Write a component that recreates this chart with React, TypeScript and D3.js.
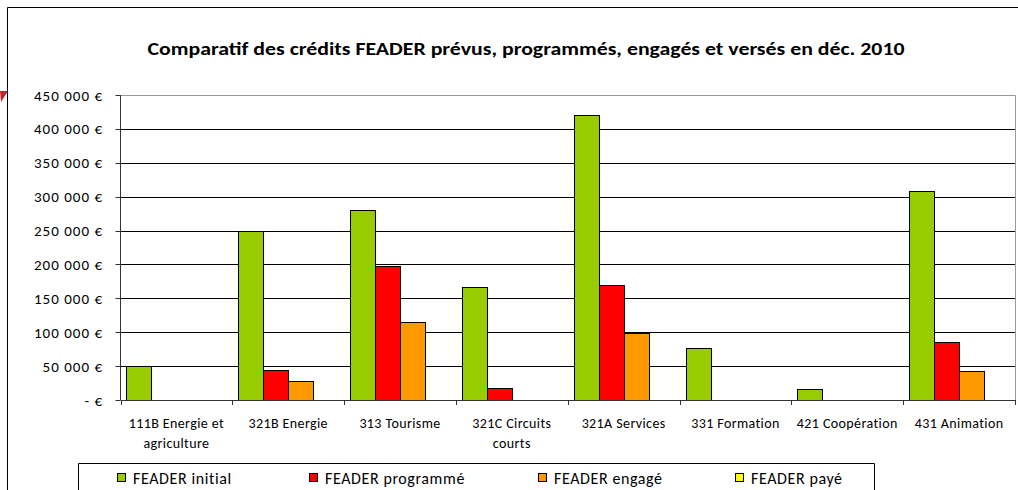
import React, { useEffect, useRef } from 'react'
import * as d3 from 'd3'

const categories = [
    '111B Energie et\nagriculture',
    '321B Energie',
    '313 Tourisme',
    '321C Circuits\ncourts',
    '321A Services',
    '331 Formation',
    '421 Coopération',
    '431 Animation',
]
const series = ['FEADER initial', 'FEADER programmé', 'FEADER engagé', 'FEADER payé']
const initial = [50000, 250000, 280000, 166000, 420000, 77000, 16000, 308000]
const programme = [0, 45000, 197000, 18000, 170000, 0, 0, 85000]
const engage = [0, 28000, 115000, 0, 99000, 0, 0, 43000]
const paye = [0, 0, 0, 0, 0, 0, 0, 0]
const yTicks = [0, 50000, 100000, 150000, 200000, 250000, 300000, 350000, 400000, 450000]

const colors = ['#99CC00', '#FF0000', '#FF9900', '#FFFF00']
const font = 'Carlito, Lato, sans-serif'

export default function App() {
    const ref = useRef<SVGSVGElement | null>(null)

    const width = 1018
    const height = 490
    const plot = { left: 120.5, right: 1015, top: 95, bottom: 400 }

    function draw() {
        var svg = d3.select(ref.current)
        svg.selectAll('*').remove()

        var values = [initial, programme, engage, paye]

        var x = d3.scaleBand().domain(categories).range([plot.left, plot.right]).padding(0)
        var xs = d3.scaleBand().domain(series).range([0, x.bandwidth()]).paddingInner(0).paddingOuter(0.24)
        var y = d3.scaleLinear().domain([0, 450000]).range([plot.bottom, plot.top])

        // chart frame (cut by the window)
        svg.append('path')
            .attr('d', 'M7.5,' + height + 'V7.5H' + width)
            .attr('fill', 'none')
            .attr('stroke', '#000')
        svg.append('polygon')
            .attr('points', '0,91 8,91 1,102')
            .attr('fill', '#C0282D')

        svg.append('text')
            .attr('x', 526)
            .attr('y', 55)
            .attr('text-anchor', 'middle')
            .attr('font-family', font)
            .attr('font-weight', 'bold')
            .attr('font-size', 18)
            .attr('textLength', 757)
            .attr('lengthAdjust', 'spacingAndGlyphs')
            .text('Comparatif des crédits FEADER prévus, programmés, engagés et versés en déc. 2010')

        // grid
        svg.append('g')
            .selectAll('line')
            .data(yTicks.slice(1, -1))
            .enter().append('line')
            .attr('x1', plot.left).attr('x2', plot.right)
            .attr('y1', d => Math.round(y(d)) + 0.5).attr('y2', d => Math.round(y(d)) + 0.5)
            .attr('stroke', '#000')

        // plot border top/right
        svg.append('path')
            .attr('d', 'M' + plot.left + ',' + (plot.top + 0.5) + 'H' + (plot.right + 0.5) + 'V' + plot.bottom)
            .attr('fill', 'none')
            .attr('stroke', '#999')

        // bars
        var g = svg.append('g')
        values.forEach((vals, si) => {
            g.selectAll('rect.s' + si)
                .data(vals.map((v, i) => ({ v, c: categories[i] })).filter(d => d.v > 0))
                .enter().append('rect')
                .attr('class', 's' + si)
                .attr('x', d => Math.round((x(d.c) as number) + (xs(series[si]) as number)) + 0.5)
                .attr('y', d => Math.round(y(d.v)) + 0.5)
                .attr('width', Math.round(xs.bandwidth()))
                .attr('height', d => Math.round(y(0)) - Math.round(y(d.v)))
                .attr('fill', colors[si])
                .attr('stroke', '#000')
                .attr('stroke-width', 1)
        })

        // y axis
        var yAxis = svg.append('g')
        yAxis.append('line')
            .attr('x1', plot.left).attr('x2', plot.left)
            .attr('y1', plot.top).attr('y2', plot.bottom)
            .attr('stroke', '#333')
        yAxis.selectAll('line.tick')
            .data(yTicks)
            .enter().append('line')
            .attr('class', 'tick')
            .attr('x1', plot.left - 5).attr('x2', plot.left)
            .attr('y1', d => Math.round(y(d)) + 0.5).attr('y2', d => Math.round(y(d)) + 0.5)
            .attr('stroke', '#333')
        yAxis.selectAll('text')
            .data(yTicks)
            .enter().append('text')
            .attr('x', 103)
            .attr('y', d => y(d) + 5.5)
            .attr('text-anchor', 'end')
            .attr('font-family', font)
            .attr('font-size', 15)
            .attr('letter-spacing', 1)
            .attr('fill', '#000')
            .text(d => d === 0 ? '- €' : d3.format(',')(d).replace(/,/g, ' ') + ' €')

        // x axis
        var xAxis = svg.append('g')
        xAxis.append('line')
            .attr('x1', plot.left).attr('x2', plot.right + 0.5)
            .attr('y1', plot.bottom + 0.5).attr('y2', plot.bottom + 0.5)
            .attr('stroke', '#333')
        xAxis.selectAll('line.tick')
            .data(categories.concat(['end']))
            .enter().append('line')
            .attr('class', 'tick')
            .attr('x1', (d, i) => Math.round(plot.left + i * x.step()) + 0.5)
            .attr('x2', (d, i) => Math.round(plot.left + i * x.step()) + 0.5)
            .attr('y1', plot.bottom).attr('y2', plot.bottom + 5)
            .attr('stroke', '#333')
        var labels = xAxis.selectAll('text')
            .data(categories)
            .enter().append('text')
            .attr('x', d => (x(d) as number) + x.bandwidth() / 2)
            .attr('y', 428)
            .attr('text-anchor', 'middle')
            .attr('font-family', font)
            .attr('font-size', 14)
            .attr('letter-spacing', 0.4)
            .attr('fill', '#000')
        labels.each(function (d) {
            var t = d3.select(this)
            d.split('\n').forEach((line, i) => {
                t.append('tspan')
                    .attr('x', (x(d) as number) + x.bandwidth() / 2)
                    .attr('dy', i === 0 ? 0 : 20)
                    .text(line)
            })
        })

        // legend
        var legendX = [117, 309, 538, 735]
        var legend = svg.append('g')
        legend.append('path')
            .attr('d', 'M78.5,' + height + 'V463.5H874.5V' + height)
            .attr('fill', 'none')
            .attr('stroke', '#000')
        series.forEach((s, i) => {
            legend.append('rect')
                .attr('x', legendX[i] + 0.5)
                .attr('y', 473.5)
                .attr('width', 8)
                .attr('height', 8)
                .attr('fill', colors[i])
                .attr('stroke', '#000')
            legend.append('text')
                .attr('x', legendX[i] + 16)
                .attr('y', 484)
                .attr('font-family', font)
                .attr('font-size', 16)
                .attr('letter-spacing', 0.6)
                .attr('fill', '#000')
                .text(s)
        })
    }

    useEffect(() => {
        draw()
    }, [])

    return (
        <div>
            <svg
                ref={ref}
                width={width}
                height={height}
                style={{ position: 'absolute', left: 0, top: 0, background: '#fff' }}
            />
        </div>
    )
}
